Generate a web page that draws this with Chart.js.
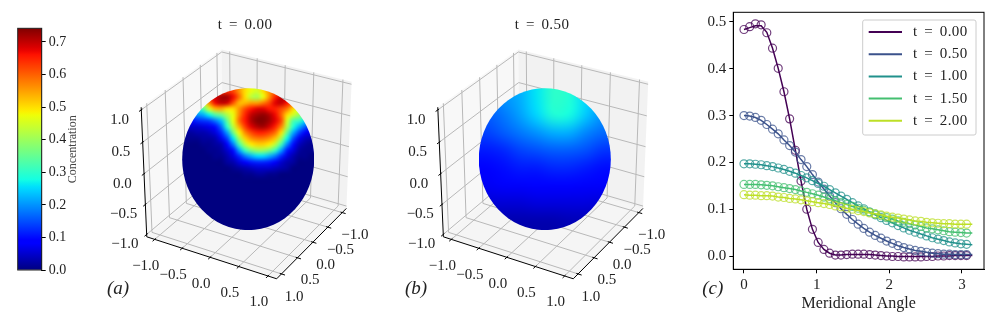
<!DOCTYPE html>
<html>
<head>
<meta charset="utf-8">
<script src="https://cdn.jsdelivr.net/npm/chart.js@4"></script>
<style>
  html, body { margin: 0; background: #fff; }
  canvas { position: absolute; top: 0; filter: blur(0.3px); }
</style>
</head>
<body>
<canvas id="bar" width="90" height="322" style="left:0"></canvas>
<canvas id="sphereA" width="275" height="322" style="left:95px"></canvas>
<canvas id="sphereB" width="275" height="322" style="left:392px"></canvas>
<canvas id="lines" width="306" height="322" style="left:690px"></canvas>
<script>
const angles = [0, 0.079, 0.157, 0.236, 0.314, 0.393, 0.471, 0.55, 0.628, 0.707, 0.785, 0.864, 0.942, 1.021, 1.1, 1.178, 1.257, 1.335, 1.414, 1.492, 1.571, 1.649, 1.728, 1.806, 1.885, 1.963, 2.042, 2.12, 2.199, 2.277, 2.356, 2.435, 2.513, 2.592, 2.67, 2.749, 2.827, 2.906, 2.985, 3.063, 3.142];
const seriesLabels = ['t = 0.00', 't = 0.50', 't = 1.00', 't = 1.50', 't = 2.00'];
const seriesColors = ['#440154', '#3b528b', '#21918c', '#44bf70', '#bddf26'];

const line000 = [0.484, 0.488, 0.492, 0.492, 0.478, 0.444, 0.401, 0.351, 0.293, 0.226, 0.16, 0.1, 0.057, 0.029, 0.014, 0.006, 0.002, 0.002, 0.003, 0.003, 0.003, 0.003, 0.003, 0.002, 0.001, 0, 0, -0.001, -0.001, -0.001, -0.001, -0.001, -0.001, -0.001, 0, 0, 0, 0.001, 0.001, 0.001, 0.001];
const mark000 = [0.484, 0.49, 0.496, 0.494, 0.477, 0.444, 0.401, 0.351, 0.293, 0.226, 0.16, 0.1, 0.057, 0.029, 0.014, 0.006, 0.002, 0.002, 0.003, 0.004, 0.004, 0.004, 0.003, 0.002, 0.001, 0, -0.001, -0.001, -0.002, -0.002, -0.002, -0.002, -0.001, -0.001, 0, 0, 0.001, 0.001, 0.001, 0.001];
const mark050 = [0.3, 0.299, 0.296, 0.29, 0.281, 0.271, 0.261, 0.248, 0.236, 0.222, 0.206, 0.191, 0.174, 0.158, 0.143, 0.128, 0.114, 0.101, 0.089, 0.078, 0.068, 0.059, 0.051, 0.044, 0.038, 0.032, 0.027, 0.022, 0.018, 0.015, 0.012, 0.01, 0.008, 0.006, 0.005, 0.004, 0.004, 0.003, 0.003, 0.003, 0.003];
const mark100 = [0.197, 0.197, 0.196, 0.195, 0.193, 0.191, 0.188, 0.185, 0.181, 0.177, 0.172, 0.167, 0.161, 0.155, 0.149, 0.142, 0.135, 0.128, 0.121, 0.114, 0.107, 0.101, 0.094, 0.088, 0.082, 0.076, 0.071, 0.065, 0.06, 0.055, 0.051, 0.047, 0.043, 0.039, 0.036, 0.033, 0.03, 0.028, 0.026, 0.025, 0.024];
const mark150 = [0.153, 0.153, 0.153, 0.152, 0.151, 0.15, 0.148, 0.146, 0.144, 0.142, 0.139, 0.136, 0.133, 0.13, 0.126, 0.122, 0.118, 0.114, 0.11, 0.106, 0.102, 0.098, 0.094, 0.09, 0.086, 0.082, 0.079, 0.075, 0.072, 0.069, 0.066, 0.063, 0.06, 0.058, 0.056, 0.054, 0.052, 0.051, 0.05, 0.049, 0.049];
const mark200 = [0.131, 0.13, 0.13, 0.129, 0.129, 0.128, 0.126, 0.125, 0.123, 0.122, 0.12, 0.118, 0.116, 0.114, 0.112, 0.11, 0.107, 0.105, 0.102, 0.1, 0.097, 0.095, 0.092, 0.09, 0.088, 0.085, 0.083, 0.081, 0.079, 0.077, 0.075, 0.074, 0.072, 0.071, 0.07, 0.069, 0.069, 0.068, 0.068, 0.068, 0.068];

const cubeTicks = [-1, -0.5, 0, 0.5, 1];
const barTickMax = 0.742;

const fieldA = [
  [.6, .6, .6, .6, .6, .64, .64, .64, .62, .56, .5, .47, .45, .5, .56, .6, .6, .6, .6, .6, .6, .6],
  [.6, .6, .6, .6, .64, .69, .72, .72, .67, .59, .5, .43, .41, .47, .56, .65, .7, .7, .7, .7, .7, .7],
  [.4, .4, .4, .45, .57, .67, .7, .69, .61, .53, .53, .55, .55, .58, .62, .68, .7, .66, .6, .6, .6, .6],
  [.25, .25, .28, .33, .45, .53, .54, .5, .5, .56, .62, .66, .68, .68, .66, .65, .62, .58, .5, .45, .4, .4],
  [.18, .18, .2, .22, .27, .33, .36, .42, .47, .57, .65, .7, .72, .73, .71, .67, .6, .5, .45, .4, .35, .3],
  [.1, .1, .12, .13, .14, .18, .23, .35, .47, .59, .66, .71, .74, .74, .72, .68, .62, .45, .33, .31, .25, .2],
  [.05, .05, .05, .06, .07, .1, .17, .3, .43, .54, .63, .68, .71, .72, .69, .65, .57, .42, .29, .22, .16, .1],
  [.02, .02, .03, .03, .04, .06, .12, .21, .36, .48, .57, .62, .65, .65, .63, .59, .5, .35, .22, .14, .08, .06],
  [.01, .01, .01, .02, .02, .03, .07, .14, .26, .41, .51, .56, .58, .58, .56, .52, .41, .27, .15, .07, .04, .03],
  [0, 0, 0, .01, .01, .02, .03, .08, .18, .32, .43, .49, .51, .51, .49, .43, .32, .19, .1, .04, .02, .01],
  [0, 0, 0, 0, .01, .01, .02, .05, .1, .21, .31, .37, .4, .4, .37, .31, .21, .11, .06, .02, .01, .01],
  [0, 0, 0, 0, 0, .01, .01, .03, .06, .12, .18, .22, .25, .25, .22, .18, .12, .06, .03, .01, .01, 0],
  [0, 0, 0, 0, 0, 0, 0, .02, .03, .06, .08, .11, .12, .12, .11, .08, .05, .03, .02, 0, 0, 0],
  [0, 0, 0, 0, 0, 0, 0, 0, .01, .02, .03, .04, .05, .05, .05, .04, .03, .02, 0, 0, 0, 0],
  [0, 0, 0, 0, 0, 0, 0, 0, 0, 0, .01, .01, .02, .02, .01, .01, 0, 0, 0, 0, 0, 0],
  [0, 0, 0, 0, 0, 0, 0, 0, 0, 0, 0, 0, 0, 0, 0, 0, 0, 0, 0, 0, 0, 0],
  [0, 0, 0, 0, 0, 0, 0, 0, 0, 0, 0, 0, 0, 0, 0, 0, 0, 0, 0, 0, 0, 0],
  [0, 0, 0, 0, 0, 0, 0, 0, 0, 0, 0, 0, 0, 0, 0, 0, 0, 0, 0, 0, 0, 0],
  [0, 0, 0, 0, 0, 0, 0, 0, 0, 0, 0, 0, 0, 0, 0, 0, 0, 0, 0, 0, 0, 0],
  [0, 0, 0, 0, 0, 0, 0, 0, 0, 0, 0, 0, 0, 0, 0, 0, 0, 0, 0, 0, 0, 0],
  [0, 0, 0, 0, 0, 0, 0, 0, 0, 0, 0, 0, 0, 0, 0, 0, 0, 0, 0, 0, 0, 0],
  [0, 0, 0, 0, 0, 0, 0, 0, 0, 0, 0, 0, 0, 0, 0, 0, 0, 0, 0, 0, 0, 0],
  [0, 0, 0, 0, 0, 0, 0, 0, 0, 0, 0, 0, 0, 0, 0, 0, 0, 0, 0, 0, 0, 0],
  [0, 0, 0, 0, 0, 0, 0, 0, 0, 0, 0, 0, 0, 0, 0, 0, 0, 0, 0, 0, 0, 0]
];
const fieldB = [
  [.18, .2, .22, .26, .3, .29, .25, .22],
  [.16, .18, .21, .25, .29, .28, .24, .2],
  [.14, .16, .18, .2, .22, .22, .19, .17],
  [.11, .12, .14, .15, .16, .16, .15, .13],
  [.09, .1, .11, .11, .12, .12, .11, .1],
  [.075, .08, .08, .085, .085, .085, .08, .08],
  [.055, .055, .055, .06, .06, .06, .06, .055],
  [.03, .03, .03, .03, .03, .035, .035, .035]
];

const serif = '"Liberation Serif", serif';
const textColor = '#222';
const LIM_XY = 1.147, LIM_Z = 1.04, HALF = 0.528;
const PX_X = 142, PX_Y = 140;

function ramp(t, pts) {
  for (let i = 1; i < pts.length; i++) {
    if (t <= pts[i][0]) {
      const [a, va] = pts[i - 1], [b, vb] = pts[i];
      return va + (vb - va) * (t - a) / (b - a);
    }
  }
  return pts[pts.length - 1][1];
}
// matplotlib jet
function jet(t) {
  t = Math.max(0, Math.min(1, t));
  const r = ramp(t, [[0, 0], [.35, 0], [.66, 1], [.89, 1], [1, .5]]);
  const g = ramp(t, [[0, 0], [.125, 0], [.375, 1], [.64, 1], [.91, 0], [1, 0]]);
  const b = ramp(t, [[0, .5], [.11, 1], [.34, 1], [.65, 0], [1, 0]]);
  return `rgb(${Math.round(r * 255)},${Math.round(g * 255)},${Math.round(b * 255)})`;
}

// mplot3d camera, elev 30 azim -60, y axis inverted
function project(x, y, z) {
  const bx = x / LIM_XY * HALF, by = -y / LIM_XY * HALF, bz = z / LIM_Z * HALF;
  const xv = 0.866 * bx + 0.5 * by;
  const yv = -0.25 * bx + 0.433 * by + 0.866 * bz;
  const zv = 0.433 * bx - 0.75 * by + 0.5 * bz;
  const f = 10 / (10 - zv);
  return { x: xv * f, y: yv * f };
}

function polyline(list, pts) {
  pts.forEach(p => list.push(project(p[0], p[1], p[2])));
  list.push({ x: null, y: null });
}

function cubeGrid() {
  const out = [], L = LIM_XY, Z = LIM_Z;
  cubeTicks.forEach(t => {
    polyline(out, [[t, L, -Z], [t, -L, -Z], [t, -L, Z]]);
    polyline(out, [[L, t, -Z], [-L, t, -Z], [-L, t, Z]]);
    polyline(out, [[-L, L, t], [-L, -L, t], [L, -L, t]]);
  });
  return out;
}

function cubeAxes() {
  const out = [], L = LIM_XY, Z = LIM_Z;
  polyline(out, [[-L, L, -Z], [L, L, -Z], [L, -L, -Z]]);
  polyline(out, [[-L, L, -Z], [-L, L, Z]]);
  cubeTicks.forEach(t => {
    polyline(out, [[t, L - 0.03, -Z], [t, L + 0.06, -Z]]);
    polyline(out, [[L - 0.03, t, -Z], [L + 0.06, t, -Z]]);
    polyline(out, [[-L, L - 0.03, t], [-L, L + 0.06, t]]);
  });
  return out;
}

const cubePlugin = {
  id: 'cube',
  beforeDatasetsDraw(chart) {
    const { ctx, scales: { x: sx, y: sy } } = chart;
    const L = LIM_XY, Z = LIM_Z;
    const panes = [
      ['rgba(242,242,242,0.5)', [[-L, L, -Z], [-L, -L, -Z], [-L, -L, Z], [-L, L, Z]]],
      ['rgba(230,230,230,0.5)', [[-L, -L, -Z], [L, -L, -Z], [L, -L, Z], [-L, -L, Z]]],
      ['rgba(236,236,236,0.5)', [[-L, L, -Z], [L, L, -Z], [L, -L, -Z], [-L, -L, -Z]]]
    ];
    panes.forEach(([color, pts]) => {
      ctx.beginPath();
      pts.forEach(p => {
        const v = project(p[0], p[1], p[2]);
        ctx.lineTo(sx.getPixelForValue(v.x), sy.getPixelForValue(v.y));
      });
      ctx.closePath();
      ctx.fillStyle = color;
      ctx.fill();
    });
  },
  afterDatasetsDraw(chart, args, opts) {
    const { ctx, scales: { x: sx, y: sy } } = chart;
    const field = opts.field;
    const rows = field.length, cols = field[0].length;
    const off = document.createElement('canvas');
    off.width = cols;
    off.height = rows;
    const oc = off.getContext('2d');
    field.forEach((row, j) => row.forEach((v, i) => {
      oc.fillStyle = jet(v / barTickMax);
      oc.fillRect(i, j, 1, 1);
    }));
    const x0 = sx.getPixelForValue(-0.465), x1 = sx.getPixelForValue(0.465);
    const y0 = sy.getPixelForValue(0.513), y1 = sy.getPixelForValue(-0.501);
    ctx.save();
    ctx.beginPath();
    ctx.ellipse((x0 + x1) / 2, (y0 + y1) / 2, (x1 - x0) / 2, (y1 - y0) / 2, 0, 0, Math.PI * 2);
    ctx.clip();
    ctx.imageSmoothingEnabled = true;
    ctx.imageSmoothingQuality = 'high';
    ctx.drawImage(off, x0, y0, x1 - x0, y1 - y0);
    ctx.restore();

    ctx.save();
    ctx.fillStyle = textColor;
    ctx.textAlign = 'center';
    ctx.textBaseline = 'middle';
    ctx.font = '15px ' + serif;
    const L = LIM_XY, Z = LIM_Z;
    const put = (t, p, dx, dy) => {
      const v = project(p[0], p[1], p[2]);
      ctx.fillText(t < 0 ? '\u2212' + (-t).toFixed(1) : t.toFixed(1), sx.getPixelForValue(v.x) + dx, sy.getPixelForValue(v.y) + dy);
    };
    cubeTicks.forEach(t => {
      put(t, [t, L, -Z], -9, 26.5);
      put(t, [L, t, -Z], 12.7, 22.7);
      put(t, [-L, L, t], -21.7, 10);
    });
    ctx.wordSpacing = '2.5px';
    ctx.letterSpacing = '0.4px';
    ctx.fillText(opts.title, opts.titleX, 25);
    ctx.wordSpacing = '0px';
    ctx.letterSpacing = '0px';
    ctx.font = 'italic 19px ' + serif;
    ctx.fillText(opts.tag, opts.tagX, 289);
    ctx.restore();
  }
};

function sphereChart(id, left, width, cx, field, title, titleX, tag, tagX) {
  new Chart(document.getElementById(id), {
    type: 'scatter',
    data: {
      datasets: [
        { data: cubeAxes(), showLine: true, borderColor: '#000', borderWidth: 1, pointRadius: 0, spanGaps: false, order: 1 },
        { data: cubeGrid(), showLine: true, borderColor: '#b8b8b8', borderWidth: 1, pointRadius: 0, spanGaps: false, order: 2 }
      ]
    },
    options: {
      responsive: false,
      animation: false,
      layout: { padding: 0, autoPadding: false },
      scales: {
        x: { display: false, min: (left - cx) / PX_X, max: (left + width - cx) / PX_X },
        y: { display: false, min: (160 - 322) / PX_Y, max: 160 / PX_Y }
      },
      plugins: {
        legend: { display: false },
        tooltip: { enabled: false },
        cube: { field, title, titleX, tag, tagX }
      }
    },
    plugins: [cubePlugin]
  });
}

sphereChart('sphereA', 95, 275, 248.2, fieldA, seriesLabels[0], 150, '(a)', 23);
sphereChart('sphereB', 392, 275, 544.8, fieldB, seriesLabels[1], 150, '(b)', 24);

// colour bar
new Chart(document.getElementById('bar'), {
  type: 'bar',
  data: {
    labels: ['Concentration'],
    datasets: [{
      data: [[0, barTickMax]],
      barPercentage: 1,
      categoryPercentage: 1,
      backgroundColor(c) {
        const sy = c.chart.scales.y;
        if (!sy || !c.chart.chartArea || !isFinite(sy.getPixelForValue(0))) return '#000';
        const g = c.chart.ctx.createLinearGradient(0, sy.getPixelForValue(0), 0, sy.getPixelForValue(barTickMax));
        for (let i = 0; i <= 64; i++) g.addColorStop(i / 64, jet(i / 64));
        return g;
      }
    }]
  },
  options: {
    responsive: false,
    animation: false,
    layout: { padding: { left: 17.7, top: 28.3, bottom: 52, right: 0 }, autoPadding: false },
    scales: {
      x: { display: false },
      y: {
        position: 'right',
        min: 0,
        max: barTickMax,
        afterFit(s) { s.width = 48.3; },
        border: { color: '#000', width: 1 },
        grid: { drawOnChartArea: false, color: '#000', tickLength: 4 },
        ticks: {
          stepSize: 0.1,
          includeBounds: false,
          padding: 3,
          color: textColor,
          font: { family: serif, size: 14 },
          callback: v => v.toFixed(1)
        }
      }
    },
    plugins: { legend: { display: false }, tooltip: { enabled: false } }
  },
  plugins: [{
    id: 'barFrame',
    afterDraw(chart) {
      const { ctx, chartArea: a } = chart;
      ctx.save();
      ctx.strokeStyle = '#222';
      ctx.lineWidth = 1;
      ctx.strokeRect(a.left, a.top, a.right - a.left, a.bottom - a.top);
      ctx.translate(72.6, 149.3);
      ctx.rotate(-Math.PI / 2);
      ctx.fillStyle = '#444';
      ctx.textAlign = 'center';
      ctx.textBaseline = 'middle';
      ctx.font = '12px ' + serif;
      ctx.fillText('Concentration', 0, 0);
      ctx.restore();
    }
  }]
});

// line panel
const markSeries = [mark000, mark050, mark100, mark150, mark200];
const lineSeries = [line000, mark050, mark100, mark150, mark200];
const lineSets = [];
seriesLabels.forEach((label, i) => {
  lineSets.push({
    label,
    data: angles.slice(0, 40).map((a, k) => ({ x: a, y: markSeries[i][k] })),
    showLine: false,
    pointStyle: 'circle',
    pointRadius: 4,
    pointBorderWidth: 1.2,
    pointBackgroundColor: 'transparent',
    pointBorderColor: seriesColors[i] + 'c0',
    order: 20 - 2 * i
  });
  lineSets.push({
    label,
    isLine: true,
    data: angles.map((a, k) => ({ x: a, y: lineSeries[i][k] })),
    showLine: true,
    borderColor: seriesColors[i],
    borderWidth: 1.5,
    pointRadius: 0,
    order: 19 - 2 * i
  });
});

new Chart(document.getElementById('lines'), {
  type: 'scatter',
  data: { datasets: lineSets },
  options: {
    responsive: false,
    animation: false,
    layout: { padding: { left: 0, top: 12.3, right: 12, bottom: 0 }, autoPadding: false },
    scales: {
      x: {
        min: -0.147,
        max: 3.303,
        afterFit(s) { s.height = 52.7; },
        border: { color: '#000', width: 1 },
        grid: { drawOnChartArea: false, color: '#000', tickLength: 4 },
        ticks: { stepSize: 1, includeBounds: false, maxRotation: 0, padding: 3, color: textColor, font: { family: serif, size: 15 }, callback: v => String(v) },
        title: { display: true, text: 'Meridional Angle', color: textColor, font: { family: serif, size: 16 }, padding: { top: 0, bottom: 9 } }
      },
      y: {
        min: -0.0284,
        max: 0.5207,
        afterFit(s) { s.width = 43.3; },
        border: { color: '#000', width: 1 },
        grid: { drawOnChartArea: false, color: '#000', tickLength: 4 },
        ticks: { stepSize: 0.1, includeBounds: false, padding: 3, color: textColor, font: { family: serif, size: 15 }, callback: v => v.toFixed(1) }
      }
    },
    plugins: { legend: { display: false }, tooltip: { enabled: false } }
  },
  plugins: [{
    id: 'lineFrame',
    afterDraw(chart) {
      const { ctx, chartArea: a } = chart;
      ctx.save();
      ctx.strokeStyle = '#000';
      ctx.lineWidth = 1;
      ctx.strokeRect(a.left, a.top, a.right - a.left, a.bottom - a.top);

      // legend box, same labels and colours as the datasets
      ctx.fillStyle = 'rgba(255,255,255,0.8)';
      ctx.strokeStyle = '#ccc';
      ctx.beginPath();
      ctx.roundRect(172.7, 20, 113.3, 115, 2);
      ctx.fill();
      ctx.stroke();
      ctx.textAlign = 'left';
      ctx.textBaseline = 'middle';
      ctx.font = '15px ' + serif;
      ctx.wordSpacing = '2.5px';
      ctx.letterSpacing = '0.4px';
      chart.data.datasets.filter(d => d.isLine).forEach((d, i) => {
        const y = 32 + i * 22.2;
        ctx.strokeStyle = d.borderColor;
        ctx.lineWidth = 2;
        ctx.beginPath();
        ctx.moveTo(178.7, y);
        ctx.lineTo(212, y);
        ctx.stroke();
        ctx.fillStyle = textColor;
        ctx.fillText(d.label, 223, y);
      });
      ctx.wordSpacing = '0px';
      ctx.letterSpacing = '0px';
      ctx.fillStyle = textColor;
      ctx.textAlign = 'center';
      ctx.font = 'italic 19px ' + serif;
      ctx.fillText('(c)', 22.7, 289);
      ctx.restore();
    }
  }]
});
</script>
</body>
</html>
